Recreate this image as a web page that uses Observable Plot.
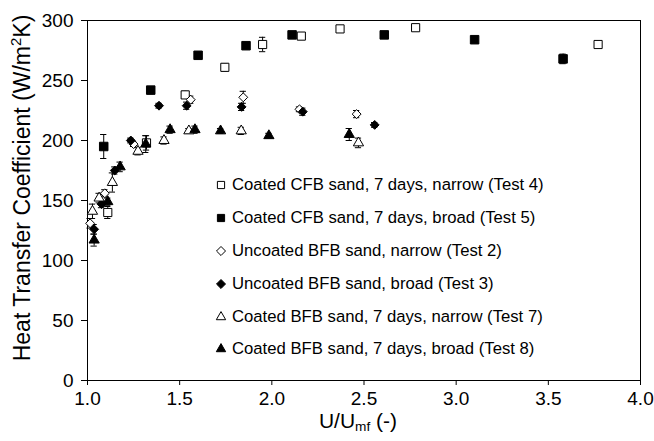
<!DOCTYPE html>
<html>
<head>
<meta charset="utf-8">
<script src="https://cdn.jsdelivr.net/npm/d3@7"></script>
<script src="https://cdn.jsdelivr.net/npm/@observablehq/plot@0.6"></script>
<style>
  body { margin: 0; background: white; }
  #wrap { position: relative; width: 654px; height: 441px; font-family: "Liberation Sans", Arial, sans-serif; color: black; }
  #ytitle { position: absolute; left: 22px; top: 188px; transform: translate(-50%, -50%) rotate(-90deg); white-space: nowrap; font-size: 23px; }
  #xtitle { position: absolute; left: 358px; top: 421px; transform: translate(-50%, -50%); white-space: nowrap; font-size: 21px; }
  #legend { position: absolute; left: 214px; top: 169px; font-size: 16.7px; }
  .row { height: 32.8px; display: flex; align-items: center; white-space: nowrap; }
  .row svg { width: 14px; height: 14px; margin-right: 4px; }
  sup, sub { font-size: 0.65em; }
  sup { vertical-align: 0.6em; line-height: 0; }
  sub { vertical-align: -0.25em; line-height: 0; }
</style>
</head>
<body>
<div id="wrap">
  <div id="chart"></div>
  <div id="ytitle">Heat Transfer Coefficient (W/m<sup>2</sup>K)</div>
  <div id="xtitle">U/U<sub>mf</sub> (-)</div>
  <div id="legend"></div>
</div>
<script>
// ---- data ----
const seriesNames = [
  "Coated CFB sand, 7 days, narrow (Test 4)",
  "Coated CFB sand, 7 days, broad (Test 5)",
  "Uncoated BFB sand, narrow (Test 2)",
  "Uncoated BFB sand, broad (Test 3)",
  "Coated BFB sand, 7 days, narrow (Test 7)",
  "Coated BFB sand, 7 days, broad (Test 8)"
];

const test4X = [1.11, 1.32, 1.53, 1.745, 1.95, 2.16, 2.37, 2.78, 3.77];
const test4Y = [140, 198, 238, 261, 280, 287, 293, 294, 280];
const test4E = [5, 6, 3, 3, 6, 2, 2, 2, 2];

const test5X = [1.088, 1.343, 1.60, 1.86, 2.11, 2.61, 3.10, 3.58];
const test5Y = [195, 242, 271, 279, 288, 288, 284, 268];
const test5E = [10, 3, 2, 2, 2, 2, 2, 4];

const test2X = [1.014, 1.094, 1.25, 1.56, 1.845, 2.15, 2.46];
const test2Y = [131, 156, 197, 234, 236, 226, 222];
const test2E = [4, 3, 2, 3, 5, 2, 3];

const test3X = [1.036, 1.076, 1.148, 1.235, 1.388, 1.538, 1.836, 2.168, 2.558];
const test3Y = [126, 147, 175, 200, 229, 229, 228, 224, 213];
const test3E = [4, 3, 3, 2, 2, 3, 3, 3, 2];

const test7X = [1.027, 1.063, 1.135, 1.274, 1.415, 1.55, 1.834, 2.47];
const test7Y = [141, 152, 165, 191, 200, 208, 208, 198];
const test7E = [6, 4, 8, 3, 3, 2, 3, 4];

const test8X = [1.036, 1.11, 1.177, 1.316, 1.448, 1.583, 1.722, 1.984, 2.42];
const test8Y = [117, 149, 178, 197, 209, 209, 208, 204, 205];
const test8E = [5, 3, 4, 7, 3, 3, 2, 2, 5];

const xTicks = [1.0, 1.5, 2.0, 2.5, 3.0, 3.5, 4.0];
const yTicks = [0, 50, 100, 150, 200, 250, 300];

// ---- build ----
const seriesDefs = [
  {name: seriesNames[0], xs: test4X, ys: test4Y, es: test4E, symbol: "square", filled: false, r: 4.6},
  {name: seriesNames[1], xs: test5X, ys: test5Y, es: test5E, symbol: "square", filled: true, r: 4.8},
  {name: seriesNames[2], xs: test2X, ys: test2Y, es: test2E, symbol: "diamond2", filled: false, r: 4.0},
  {name: seriesNames[3], xs: test3X, ys: test3Y, es: test3E, symbol: "diamond2", filled: true, r: 4.0},
  {name: seriesNames[4], xs: test7X, ys: test7Y, es: test7E, symbol: "triangle", filled: false, r: 3.8},
  {name: seriesNames[5], xs: test8X, ys: test8Y, es: test8E, symbol: "triangle", filled: true, r: 3.8}
];

const capHalf = 0.017;
const marks = [];
for (const s of seriesDefs) {
  const rows = s.xs.map((x, i) => ({x, y: s.ys[i], e: s.es[i]}));
  marks.push(Plot.ruleX(rows, {x: "x", y1: d => d.y - d.e, y2: d => d.y + d.e, stroke: "black", strokeWidth: 1}));
  marks.push(Plot.ruleY(rows, {y: d => d.y - d.e, x1: d => d.x - capHalf, x2: d => d.x + capHalf, stroke: "black", strokeWidth: 1}));
  marks.push(Plot.ruleY(rows, {y: d => d.y + d.e, x1: d => d.x - capHalf, x2: d => d.x + capHalf, stroke: "black", strokeWidth: 1}));
}
for (const s of seriesDefs) {
  const rows = s.xs.map((x, i) => ({x, y: s.ys[i]}));
  marks.push(Plot.dot(rows, {x: "x", y: "y", symbol: s.symbol, r: s.r,
    fill: s.filled ? "black" : "white", stroke: "black", strokeWidth: 1}));
}

const chart = Plot.plot({
  width: 654, height: 441,
  marginLeft: 87, marginRight: 14, marginTop: 20, marginBottom: 61,
  style: {fontFamily: "'Liberation Sans', Arial, sans-serif", fontSize: "19px", background: "white", color: "black", overflow: "visible"},
  x: {domain: [1, 4]},
  y: {domain: [0, 300]},
  marks: [
    Plot.frame({stroke: "black", strokeWidth: 1}),
    Plot.axisX({ticks: xTicks, tickFormat: d3.format(".1f"), tickSize: 5, tickPadding: 6, label: null, fontSize: 19}),
    Plot.axisY({ticks: yTicks, tickSize: 6, tickPadding: 8, label: null, fontSize: 19}),
    ...marks
  ]
});
document.getElementById("chart").appendChild(chart);

// ---- legend ----
const legend = d3.select("#legend");
const symMap = {square: d3.symbolSquare, diamond2: d3.symbolDiamond2, triangle: d3.symbolTriangle};
for (const s of seriesDefs) {
  const row = legend.append("div").attr("class", "row");
  const svg = row.append("svg").attr("viewBox", "-7 -7 14 14");
  svg.append("path")
    .attr("d", d3.symbol(symMap[s.symbol], s.symbol === "triangle" ? 38 : 52)())
    .attr("fill", s.filled ? "black" : "white")
    .attr("stroke", "black").attr("stroke-width", 1);
  row.append("span").text(s.name);
}
</script>
</body>
</html>
